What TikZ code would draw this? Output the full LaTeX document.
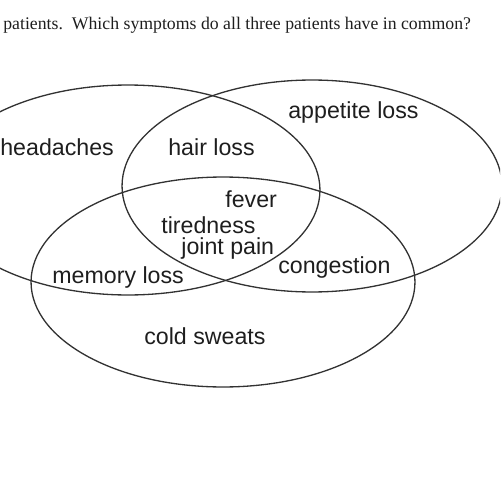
\documentclass[tikz,border=0pt]{standalone}
\usepackage{fontspec}
\setmainfont{Liberation Serif}
\setsansfont{Liberation Sans}
\definecolor{ink}{RGB}{30, 30, 30}
\definecolor{rim}{RGB}{50, 50, 50}
\begin{document}
\begin{tikzpicture}[x=0.02cm, y=-0.02cm,
        every node/.style={inner sep=0pt, anchor=base west, text=ink, font=\sffamily\fontsize{13.2}{15}\selectfont},
        set/.style={draw=rim, line width=0.75pt}
      ]
        \useasboundingbox (0,0) rectangle (500,500);
        \clip (0,0) rectangle (500,500);
        \node[font=\rmfamily\fontsize{10.1}{12}\selectfont] (question) at (3,30) {patients.\ \ Which symptoms do all three patients have in common?};
        % the three patients
        \draw[set] (128,190) ellipse [x radius=3.84cm, y radius=2.1cm];
        \draw[set] (312,186) ellipse [x radius=3.8cm, y radius=2.12cm];
        \draw[set] (223,282) ellipse [x radius=3.84cm, y radius=2.1cm];
        \node (headaches) at (0,155) {headaches};
        \node (hairloss) at (168,155) {hair loss};
        \node (appetite) at (288,118) {appetite loss};
        \node (fever) at (225,207) {fever};
        \node (tiredness) at (161,233) {tiredness};
        \node (jointpain) at (181,254) {joint pain};
        \node (congestion) at (278,273) {congestion};
        \node (memory) at (52,283) {memory loss};
        \node (sweats) at (144,344) {cold sweats};
      \end{tikzpicture}
\end{document}
